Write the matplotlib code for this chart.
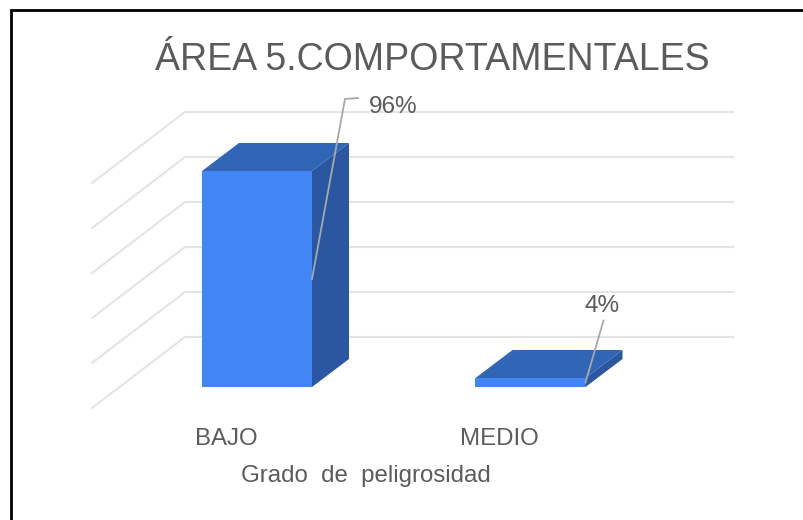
"""plot.py - 3D-look column chart, drawn as flat polygons on one full-figure axes."""
import matplotlib
matplotlib.use("Agg")
import matplotlib.pyplot as plt
from matplotlib.patches import Polygon

CATEGORIES = ["BAJO", "MEDIO"]
VALUES = [96, 4]
LABELS = ["96%", "4%"]
GRID_VALUES = [20, 40, 60, 80, 100, 120]
TITLE = "ÁREA 5.COMPORTAMENTALES"
XLABEL = "Grado  de  peligrosidad"

W, H = 804, 520
X0, X_STEP = 257.0, 273.5   # pixel of category 0, pixels per category
Y0, Y_STEP = 387.0, 2.25    # pixel of value 0, pixels per percent
BAR_W = 110 / X_STEP
DX, DY = 37 / X_STEP, 28 / Y_STEP           # depth of the bars
WALL_L, WALL_R = -72 / X_STEP, 476 / X_STEP  # back wall, from the first bar
WALL_DX, WALL_DY = 93 / X_STEP, 71 / Y_STEP  # floor-side part of the gridlines
WALL_LIFT = 5 / Y_STEP

FRONT = "#4285f4"
TOP = "#3165b6"
SIDE = "#2a579f"
GRID = "#e4e4e4"
TEXT = "#5b5b5b"

plt.rcParams.update({"font.family": ["Liberation Sans", "DejaVu Sans"]})


def main():
    fig = plt.figure(figsize=(W / 100, H / 100), dpi=100, facecolor="white")
    ax = fig.add_axes([0, 0, 1, 1])
    ax.set_xlim(-X0 / X_STEP, (W - X0) / X_STEP)
    ax.set_ylim((Y0 - H) / Y_STEP, Y0 / Y_STEP)
    ax.axis("off")

    # px offsets -> data units, for text and leaders
    px = lambda d: d / X_STEP
    py = lambda d: d / Y_STEP

    for v in GRID_VALUES:
        y = v + WALL_LIFT
        ax.plot([WALL_L - WALL_DX, WALL_L, WALL_R], [y - WALL_DY, y, y],
                color=GRID, lw=1.5, solid_joinstyle="miter", zorder=1)

    for i, v in enumerate(VALUES):
        l, r = i - BAR_W / 2, i + BAR_W / 2
        ax.add_patch(Polygon([(l, 0), (r, 0), (r, v), (l, v)], fc=FRONT, ec="none", zorder=3))
        ax.add_patch(Polygon([(l, v), (r, v), (r + DX, v + DY), (l + DX, v + DY)],
                             fc=TOP, ec="none", zorder=3))
        ax.add_patch(Polygon([(r, 0), (r + DX, DY), (r + DX, v + DY), (r, v)],
                             fc=SIDE, ec="none", zorder=3))
        ax.text(i - px(31), py(-52), CATEGORIES[i], ha="center", va="center",
                fontsize=17.3, color=TEXT)

    # leader lines start halfway up the front edge of each bar
    r0 = 0 + BAR_W / 2
    ax.plot([r0, r0 + px(33), r0 + px(46)],
            [VALUES[0] / 2, VALUES[0] / 2 + py(180), VALUES[0] / 2 + py(181)],
            color="#a8a8a8", lw=1.3, zorder=4)
    ax.text(r0 + px(105), VALUES[0] / 2 + py(172), LABELS[0], ha="right", va="center",
            fontsize=17.5, color=TEXT, zorder=5)
    r1 = 1 + BAR_W / 2
    ax.plot([r1, r1 + px(18)], [VALUES[1] / 2, VALUES[1] / 2 + py(62)],
            color="#a8a8a8", lw=1.3, zorder=4)
    ax.text(r1 + px(17), VALUES[1] / 2 + py(76), LABELS[1], ha="center", va="center",
            fontsize=17.5, color=TEXT, zorder=5)

    ax.text(px(432 - X0), py(Y0 - 60), TITLE, ha="center", va="center",
            fontsize=27, color=TEXT)
    ax.text(px(366 - X0), py(Y0 - 476), XLABEL, ha="center", va="center",
            fontsize=17.3, color=TEXT)

    # screenshot frame, left and top edges only
    ax.plot([px(11 - X0), px(11 - X0), px(W - X0)],
            [py(Y0 - H), py(Y0 - 10), py(Y0 - 10)],
            color="black", lw=2, solid_joinstyle="miter", zorder=6)

    fig.savefig("out.png", dpi=100, facecolor="white")
    plt.close(fig)


if __name__ == "__main__":
    main()
